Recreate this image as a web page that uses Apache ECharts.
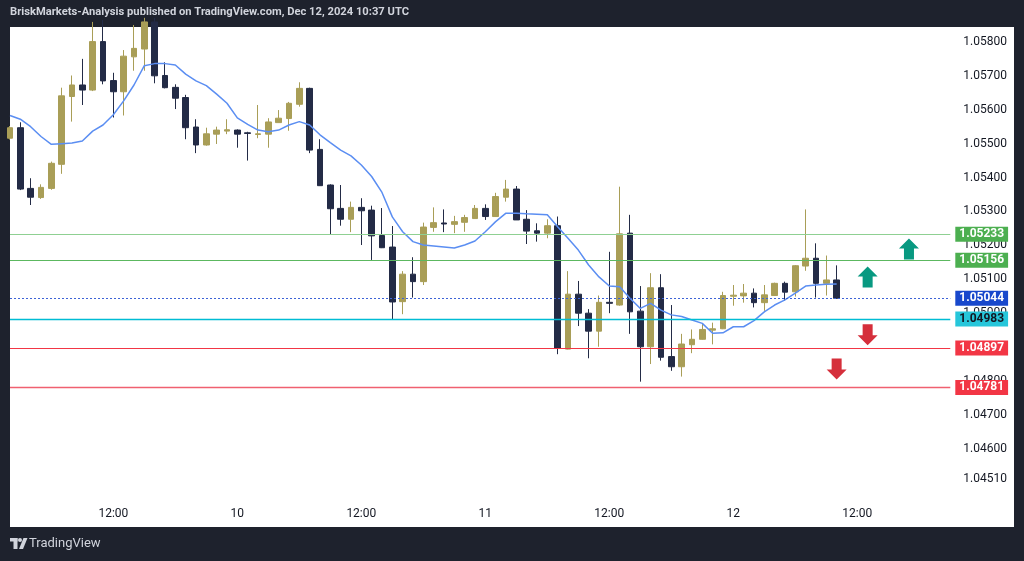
<!DOCTYPE html>
<html>
<head>
<meta charset="utf-8">
<script src="https://cdn.jsdelivr.net/npm/echarts@6/dist/echarts.min.js"></script>
<style>
html,body{margin:0;padding:0;background:#1e222d;}
#chart{width:1024px;height:561px;}
</style>
</head>
<body>
<div id="chart"></div>
<script>
// ---- DATA (EURUSD 1h, Dec 9 02:00 UTC -> Dec 12 10:00 UTC) ----
const opens = [1.05516,1.05547,1.05368,1.05341,1.05368,1.05439,1.05639,1.05673,1.05658,1.05801,
1.05686,1.05653,1.05756,1.05779,1.05859,1.05701,1.05666,1.05636,1.05549,1.05496,
1.05528,1.05537,1.05540,1.05532,1.05527,1.05528,1.05562,1.05574,1.05616,1.05663,
1.05483,1.05378,1.05309,1.05277,1.05312,1.05304,1.05229,1.05195,1.05034,1.05115,
1.05093,1.05253,1.05266,1.05262,1.05268,1.05279,1.05309,1.05285,1.05342,1.05366,
1.05277,1.05243,1.05236,1.05258,1.04894,1.05056,1.05000,1.04947,1.05032,1.05024,
1.05236,1.05006,1.04901,1.05075,1.04872,1.04842,1.04907,1.04923,1.04950,1.04954,
1.05050,1.05051,1.05059,1.05031,1.05052,1.05088,1.05063,1.05139,1.05162,1.05088,1.05098];
const closes = [1.05547,1.05366,1.05342,1.05371,1.05442,1.05641,1.05673,1.05658,1.05801,1.05685,
1.05653,1.05758,1.05781,1.05859,1.05700,1.05665,1.05634,1.05547,1.05496,1.05529,
1.05540,1.05541,1.05528,1.05530,1.05529,1.05564,1.05575,1.05619,1.05663,1.05481,
1.05376,1.05308,1.05277,1.05312,1.05302,1.05228,1.05193,1.05033,1.05115,1.05093,
1.05254,1.05267,1.05263,1.05270,1.05282,1.05309,1.05285,1.05344,1.05366,1.05275,
1.05242,1.05236,1.05258,1.04896,1.05056,1.05000,1.04947,1.05032,1.05029,1.05234,
1.05004,1.04901,1.05075,1.04870,1.04842,1.04909,1.04923,1.04952,1.04954,1.05052,
1.05053,1.05059,1.05031,1.05054,1.05088,1.05062,1.05140,1.05162,1.05088,1.05098,1.05044];
const lows = [1.05512,1.05363,1.05319,1.05337,1.05364,1.05411,1.05565,1.05614,1.05655,1.05675,
1.05577,1.05583,1.05715,1.05715,1.05678,1.05663,1.05602,1.05513,1.05472,1.05494,
1.05499,1.05528,1.05488,1.05450,1.05516,1.05488,1.05562,1.05538,1.05609,1.05472,
1.05375,1.05231,1.05258,1.05239,1.05201,1.05157,1.05192,1.04980,1.04997,1.05046,
1.05083,1.05240,1.05239,1.05236,1.05240,1.05279,1.05275,1.05284,1.05329,1.05275,
1.05204,1.05211,1.05221,1.04879,1.04893,1.04962,1.04867,1.04901,1.05000,1.05022,
1.04939,1.04798,1.04850,1.04860,1.04830,1.04813,1.04882,1.04922,1.04908,1.04953,
1.05022,1.05031,1.05017,1.05007,1.05051,1.05037,1.05049,1.05125,1.05046,1.05052,1.05042];
const highs = [1.05552,1.05563,1.05398,1.05380,1.05447,1.05665,1.05701,1.05750,1.05859,1.05865,
1.05709,1.05776,1.05850,1.05871,1.05871,1.05740,1.05675,1.05644,1.05572,1.05547,
1.05550,1.05572,1.05542,1.05535,1.05614,1.05575,1.05599,1.05623,1.05681,1.05665,
1.05513,1.05380,1.05378,1.05329,1.05339,1.05317,1.05310,1.05257,1.05124,1.05165,
1.05267,1.05312,1.05306,1.05287,1.05290,1.05319,1.05321,1.05355,1.05393,1.05375,
1.05304,1.05265,1.05277,1.05285,1.05124,1.05095,1.05012,1.05052,1.05181,1.05373,
1.05290,1.05080,1.05118,1.05115,1.05024,1.04939,1.04952,1.04970,1.04972,1.05063,
1.05083,1.05086,1.05073,1.05083,1.05090,1.05093,1.05142,1.05306,1.05206,1.05170,1.05141];
const maValues = [1.05583,1.05572,1.05550,1.05521,1.05498,1.05500,1.05502,1.05508,1.05537,1.05555,
1.05585,1.05626,1.05673,1.05730,1.05736,1.05736,1.05732,1.05705,1.05685,1.05671,
1.05646,1.05619,1.05576,1.05557,1.05540,1.05535,1.05540,1.05555,1.05565,1.05555,
1.05526,1.05503,1.05481,1.05464,1.05437,1.05403,1.05356,1.05284,1.05240,1.05211,
1.05201,1.05198,1.05195,1.05192,1.05201,1.05213,1.05240,1.05270,1.05295,1.05295,
1.05293,1.05292,1.05290,1.05255,1.05221,1.05186,1.05142,1.05107,1.05080,1.05078,
1.05044,1.05014,1.05029,1.05009,1.04995,1.04990,1.04980,1.04970,1.04941,1.04942,
1.04960,1.04960,1.04978,1.05004,1.05024,1.05039,1.05059,1.05080,1.05083,1.05085,1.05086];
const levels = [1.05233, 1.05156, 1.05044, 1.04983, 1.04897, 1.04781];
const yTicks = [1.058,1.057,1.056,1.055,1.054,1.053,1.052,1.051,1.050,1.049,1.048,1.047,1.046,1.0451];
const upArrows = [[83, 1.05107], [87, 1.05189]];
const downArrows = [[83, 1.04936], [80, 1.04835]];
const startHourUTC = Date.UTC(2024, 11, 9, 2);
const nCategories = 92;
const titleText = 'BriskMarkets-Analysis published on TradingView.com, Dec 12, 2024 10:37 UTC';

// ---- styles ----
const levelLine = ['#8fd092', '#5cb860', '#3d63d6', '#00bcd4', '#f23645', '#f06070'];
const levelWidth = [1.2, 1.2, 1.2, 1.4, 1.2, 1.4];
const levelBadge = ['#4caf50', '#4caf50', '#1848cc', '#26c6da', '#f23645', '#f23645'];
const levelText = ['#ffffff', '#ffffff', '#ffffff', '#131722', '#ffffff', '#ffffff'];
const levelType = ['solid', 'solid', [2, 2], 'solid', 'solid', 'solid'];

const categories = [];
for (let i = 0; i < nCategories; i++) {
  const d = new Date(startHourUTC + i * 3600000);
  categories.push(d.toISOString().slice(0, 13) + ':00');
}
const candleData = opens.map((o, i) => [o, closes[i], lows[i], highs[i]]);

const upPath = 'path://M10,0 L20,10 L15,10 L15,21 L5,21 L5,10 L0,10 Z';
const downPath = 'path://M5,0 L15,0 L15,11 L20,11 L10,21 L0,11 L5,11 Z';

const chart = echarts.init(document.getElementById('chart'), null, {renderer: 'canvas'});
const font = 'Roboto, "Noto Sans", sans-serif';

const levelSeries = levels.map((v, i) => ({
  type: 'line',
  data: [],
  silent: true,
  color: levelLine[i],
  z: 4,
  markLine: {
    silent: true,
    precision: 5,
    symbol: ['none', 'none'],
    lineStyle: {color: levelLine[i], width: levelWidth[i], type: levelType[i], opacity: 1},
    label: {
      show: true, position: 'end', distance: 5,
      formatter: v.toFixed(5),
      color: levelText[i], backgroundColor: levelBadge[i],
      padding: [2, 4, 1, 4], fontSize: 12, fontWeight: 'bold', fontFamily: font
    },
    data: [{yAxis: v}]
  }
}));

chart.setOption({
  animation: false,
  backgroundColor: '#ffffff',
  textStyle: {fontFamily: font},
  grid: {left: 10, top: 27, right: 73.7, bottom: 61},
  xAxis: {
    type: 'category',
    data: categories,
    boundaryGap: false,
    axisLine: {show: false},
    axisTick: {show: false},
    splitLine: {show: false},
    axisLabel: {
      color: '#131722', fontSize: 12, margin: 8, fontFamily: font,
      interval: (idx, val) => { const h = val.slice(11, 13); return h === '00' || h === '12'; },
      formatter: (val) => { const h = val.slice(11, 13); return h === '12' ? '12:00' : String(parseInt(val.slice(8, 10), 10)); }
    }
  },
  yAxis: {
    type: 'value',
    position: 'right',
    min: 1.04449,
    max: 1.05844,
    scale: true,
    splitLine: {show: false},
    axisLine: {show: false},
    axisTick: {show: false},
    axisLabel: {
      customValues: yTicks,
      color: '#131722', fontSize: 12, margin: 13, fontFamily: font,
      formatter: (v) => v.toFixed(5)
    }
  },
  series: [
    {
      type: 'candlestick',
      data: candleData,
      barWidth: 6,
      clip: true,
      itemStyle: {
        color: '#a99e57', color0: '#232b46',
        borderColor: '#a99e57', borderColor0: '#232b46', borderWidth: 1
      }
    },
    {
      type: 'line',
      data: maValues,
      symbol: 'none',
      lineStyle: {color: '#5b8ef2', width: 1.5},
      z: 3,
      markPoint: {
        silent: true,
        label: {show: false},
        data: upArrows.map(a => ({coord: a, symbol: upPath, symbolSize: [20, 21], itemStyle: {color: '#089981'}}))
          .concat(downArrows.map(a => ({coord: a, symbol: downPath, symbolSize: [20, 21], itemStyle: {color: '#d52f3b'}})))
      }
    }
  ].concat(levelSeries),
  graphic: [
    {type: 'rect', left: 0, top: 0, shape: {width: 1024, height: 27}, style: {fill: '#1e222d'}, silent: true},
    {type: 'rect', left: 0, top: 527, shape: {width: 1024, height: 34}, style: {fill: '#1e222d'}, silent: true},
    {type: 'rect', left: 0, top: 0, shape: {width: 10, height: 561}, style: {fill: '#1e222d'}, silent: true},
    {type: 'rect', left: 1014, top: 0, shape: {width: 10, height: 561}, style: {fill: '#1e222d'}, silent: true},
    {type: 'text', left: 10, top: 7, style: {text: titleText, fill: '#d1d4dc', fontSize: 11.2, fontWeight: 'bold', fontFamily: font}},
    {type: 'group', left: 10, top: 538, children: [
      {type: 'rect', shape: {x: 0, y: 0, width: 7.5, height: 3.5}, style: {fill: '#d1d4dc'}},
      {type: 'rect', shape: {x: 3.5, y: 0, width: 4, height: 11}, style: {fill: '#d1d4dc'}},
      {type: 'circle', shape: {cx: 10, cy: 2, r: 2}, style: {fill: '#d1d4dc'}},
      {type: 'polygon', shape: {points: [[13.5, 0], [17.5, 0], [13, 11], [9, 11]]}, style: {fill: '#d1d4dc'}}
    ]},
    {type: 'text', left: 29, top: 537, style: {text: 'TradingView', fill: '#d1d4dc', fontSize: 13, fontFamily: font}}
  ]
});
</script>
</body>
</html>
